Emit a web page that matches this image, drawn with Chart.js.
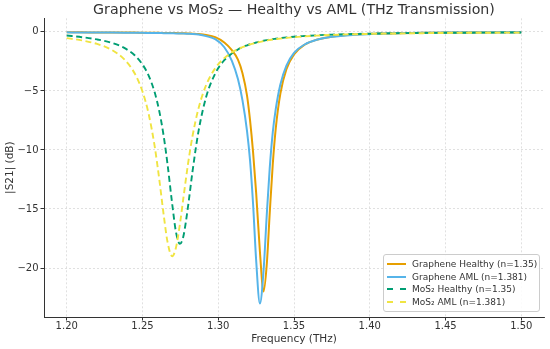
<!DOCTYPE html>
<html>
<head>
<meta charset="utf-8">
<script src="https://cdn.jsdelivr.net/npm/chart.js@4.4.1/dist/chart.umd.min.js"></script>
<style>
  html, body { margin: 0; padding: 0; background: #ffffff; }
  #wrap { position: relative; width: 550px; height: 349px; }
  #c { position: absolute; left: 0; top: 0; }
  #title {
    position: absolute; left: 44px; width: 500px; top: 0px; height: 18px; line-height: 18px;
    text-align: center; font-family: 'DejaVu Sans', sans-serif; font-size: 14.2px; color: #333333;
    white-space: nowrap;
  }
  #legend {
    position: absolute; left: 383px; top: 254px; width: 157px; height: 58px;
    box-sizing: border-box; border: 1px solid #cccccc; border-radius: 3px;
    background: rgba(255,255,255,0.85);
    font-family: 'DejaVu Sans', sans-serif; font-size: 9px; color: #333333;
    padding: 3px 0 0 3px;
  }
  .item { height: 12.5px; display: flex; align-items: center; white-space: nowrap; }
  .swatch { width: 19px; height: 0; margin-right: 6px; }
</style>
</head>
<body>
<div id="wrap">
  <canvas id="c" width="550" height="349"></canvas>
  <div id="title"></div>
  <div id="legend"></div>
</div>
<script>
// ---- data ----
const chartTitle = 'Graphene vs MoS\u2082 \u2014 Healthy vs AML (THz Transmission)';
const xLabel = 'Frequency (THz)';
const yLabel = '|S21| (dB)';
const xTicks = [1.20, 1.25, 1.30, 1.35, 1.40, 1.45, 1.50];
const yTicks = [-20, -15, -10, -5, 0];

const seriesNames = [
  'Graphene Healthy (n=1.35)',
  'Graphene AML (n=1.381)',
  'MoS\u2082 Healthy (n=1.35)',
  'MoS\u2082 AML (n=1.381)'
];

// frequency samples (THz)
const freq = [1.200,1.210,1.220,1.230,1.238,1.245,1.250,1.254,1.258,1.261,
              1.264,1.2665,1.2696,1.272,1.2747,1.277,1.280,1.283,1.287,1.292,
              1.298,1.304,1.309,1.313,1.316,1.319,1.321,1.323,1.325,1.3275,
              1.3299,1.332,1.334,1.336,1.338,1.341,1.345,1.350,1.357,1.365,
              1.375,1.390,1.410,1.435,1.465,1.500];

const grapheneHealthy = [-0.04,-0.04,-0.05,-0.05,-0.06,-0.06,-0.07,-0.07,-0.08,-0.08,
                         -0.09,-0.09,-0.10,-0.10,-0.11,-0.12,-0.13,-0.15,-0.18,-0.26,
                         -0.45,-0.90,-1.55,-2.35,-3.50,-5.40,-7.50,-10.20,-13.60,-18.60,
                         -22.00,-19.74,-15.31,-11.18,-8.13,-5.23,-3.17,-1.91,-1.09,-0.67,
                         -0.41,-0.23,-0.13,-0.08,-0.05,-0.03];

const grapheneAML = [-0.04,-0.05,-0.05,-0.06,-0.07,-0.08,-0.08,-0.09,-0.10,-0.10,
                     -0.11,-0.11,-0.12,-0.13,-0.13,-0.14,-0.16,-0.18,-0.23,-0.36,
                     -0.62,-1.30,-2.45,-4.00,-5.80,-8.40,-10.90,-14.60,-19.30,-23.00,
                     -20.24,-15.55,-11.50,-8.49,-6.50,-4.45,-2.85,-1.77,-1.07,-0.67,
                     -0.42,-0.25,-0.14,-0.08,-0.05,-0.03];

const mos2Healthy = [-0.31,-0.45,-0.64,-0.94,-1.36,-2.00,-2.76,-3.68,-5.10,-6.66,
                     -8.83,-11.18,-14.56,-16.88,-17.95,-17.31,-14.85,-11.84,-8.40,-5.52,
                     -3.53,-2.40,-1.82,-1.49,-1.29,-1.14,-1.05,-0.97,-0.90,-0.81,
                     -0.75,-0.70,-0.65,-0.61,-0.58,-0.53,-0.47,-0.41,-0.35,-0.29,
                     -0.23,-0.18,-0.13,-0.09,-0.07,-0.05];

const mos2AML = [-0.53,-0.72,-1.02,-1.55,-2.33,-3.55,-5.05,-6.91,-9.66,-12.41,
                 -15.51,-17.77,-19.00,-18.32,-16.29,-14.07,-11.23,-8.84,-6.47,-4.51,
                 -3.08,-2.22,-1.74,-1.46,-1.29,-1.14,-1.06,-0.99,-0.92,-0.85,
                 -0.78,-0.73,-0.69,-0.65,-0.61,-0.57,-0.51,-0.45,-0.38,-0.32,
                 -0.26,-0.20,-0.15,-0.11,-0.08,-0.06];

// ---- styling ----
const seriesValues = [grapheneHealthy, grapheneAML, mos2Healthy, mos2AML];
const colors = ['#E69F00', '#56B4E9', '#009E73', '#F0E442'];
const widths = [2, 2, 1.9, 1.9];
const dashes = [[], [], [6, 3.5], [6, 3.5]];
const FONT = "'DejaVu Sans', sans-serif";
const TXT = '#333333';

document.getElementById('title').textContent = chartTitle;

const datasets = seriesNames.map((name, i) => ({
  label: name,
  data: freq.map((f, j) => ({ x: f, y: seriesValues[i][j] })),
  borderColor: colors[i],
  backgroundColor: colors[i],
  borderWidth: widths[i],
  borderDash: dashes[i],
  pointRadius: 0,
  fill: false,
  cubicInterpolationMode: 'monotone',
  order: seriesNames.length - 1 - i
}));

new Chart(document.getElementById('c').getContext('2d'), {
  type: 'line',
  data: { datasets },
  options: {
    responsive: false,
    animation: false,
    devicePixelRatio: 1,
    layout: { padding: { left: 0, right: 6, top: 18.3, bottom: 0 } },
    plugins: {
      legend: { display: false },
      tooltip: { enabled: false },
      title: { display: false }
    },
    scales: {
      x: {
        type: 'linear', min: 1.185, max: 1.515,
        afterBuildTicks: s => { s.ticks = xTicks.map(v => ({ value: v })); },
        afterFit: s => { s.height = 32; },
        ticks: { callback: v => Number(v).toFixed(2), color: TXT, font: { family: FONT, size: 10 },
                 padding: 0, maxRotation: 0, autoSkip: false },
        grid: { color: '#d9d9d9', lineWidth: 0.8, tickColor: '#333333', tickLength: 3.5, tickWidth: 1 },
        border: { display: true, color: '#333333', width: 1, dash: [2, 2] },
        title: { display: true, text: xLabel, color: TXT, font: { family: FONT, size: 10.5 },
                 padding: { top: 0, bottom: 3.7 } }
      },
      y: {
        type: 'linear', min: -24.15, max: 1.15,
        afterBuildTicks: s => { s.ticks = yTicks.map(v => ({ value: v })); },
        afterFit: s => { s.width = 44; },
        ticks: { callback: v => (v < 0 ? '\u2212' : '') + Math.abs(v), color: TXT,
                 font: { family: FONT, size: 10 }, padding: 2 },
        grid: { color: '#d9d9d9', lineWidth: 0.8, tickColor: '#333333', tickLength: 3.5, tickWidth: 1 },
        border: { display: true, color: '#333333', width: 1, dash: [2, 2] },
        title: { display: true, text: yLabel, color: TXT, font: { family: FONT, size: 10.5 },
                 padding: { top: 3.7, bottom: 0 } }
      }
    }
  }
});

// ---- legend (real text) ----
const legend = document.getElementById('legend');
seriesNames.forEach((name, i) => {
  const row = document.createElement('div');
  row.className = 'item';
  const sw = document.createElement('span');
  sw.className = 'swatch';
  sw.style.borderTop = '2px ' + (dashes[i].length ? 'dashed ' : 'solid ') + colors[i];
  const tx = document.createElement('span');
  tx.textContent = name;
  row.appendChild(sw); row.appendChild(tx);
  legend.appendChild(row);
});
</script>
</body>
</html>
